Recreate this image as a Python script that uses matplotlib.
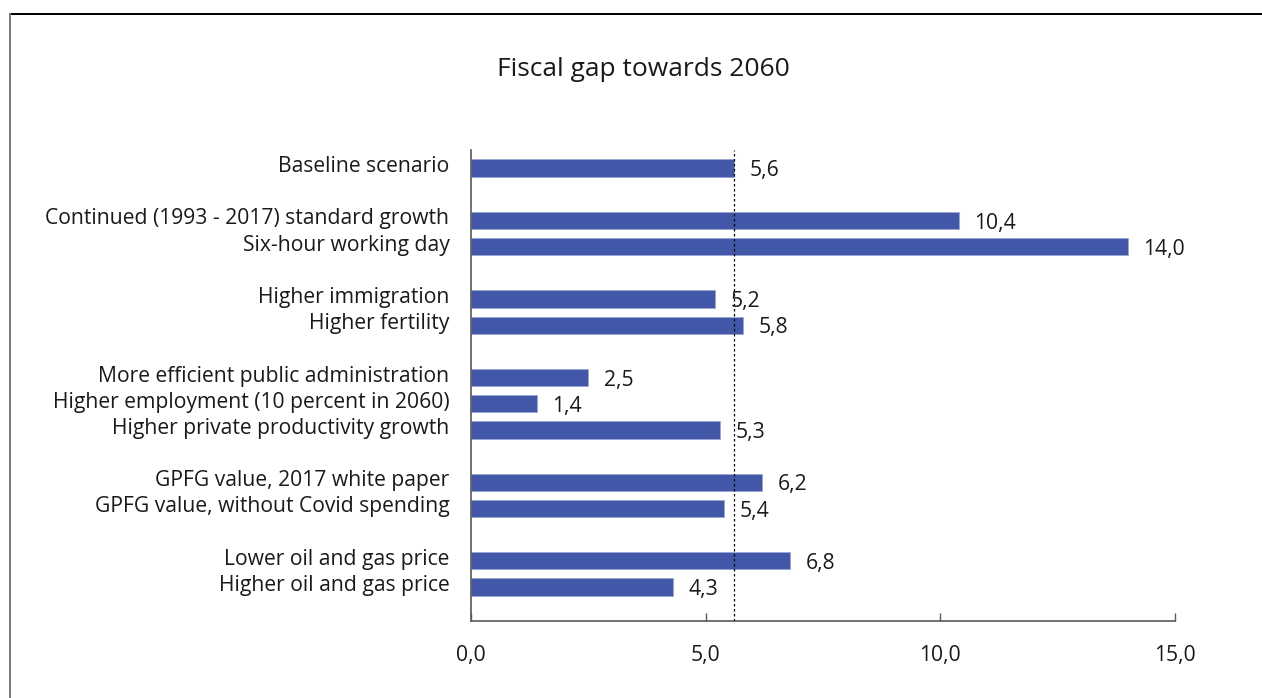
import matplotlib.pyplot as plt
from matplotlib.lines import Line2D
from matplotlib.transforms import ScaledTranslation

plt.rcParams['font.family'] = ['Open Sans', 'DejaVu Sans']

# Scenarios, grouped; a blank row separates each group
groups = [
    ["Baseline scenario"],
    ["Continued (1993 - 2017) standard growth", "Six-hour working day"],
    ["Higher immigration", "Higher fertility"],
    ["More efficient public administration",
     "Higher employment (10 percent in 2060)",
     "Higher private productivity growth"],
    ["GPFG value, 2017 white paper", "GPFG value, without Covid spending"],
    ["Lower oil and gas price", "Higher oil and gas price"],
]
group_values = [
    [5.6],
    [10.4, 14.0],
    [5.2, 5.8],
    [2.5, 1.4, 5.3],
    [6.2, 5.4],
    [6.8, 4.3],
]
baseline = 5.6
xticks = [0, 5, 10, 15]

labels, values, ypos = [], [], []
row = 0
for names, vals in zip(groups, group_values):
    for n, v in zip(names, vals):
        labels.append(n)
        values.append(v)
        ypos.append(row)
        row += 1
    row += 1  # spacer row
last_row = ypos[-1]

fs = 15.2
fig = plt.figure(figsize=(12.62, 6.98), dpi=100)
ax = fig.add_axes([471 / 1262, 1 - 621 / 698, 704 / 1262, 471 / 698])

bar_color = '#4257a7'
ax.barh(ypos, values, height=0.66, color=bar_color, edgecolor='#9aa6d4',
        linewidth=0.6, zorder=2)

for y, v in zip(ypos, values):
    ax.text(v + 0.33, y + 0.1, f"{v:.1f}".replace('.', ','), va='center',
            ha='left', fontsize=fs, color='#1a1a1a', zorder=4)

ax.axvline(baseline, color='black', linestyle=(0, (2, 2)), linewidth=0.9,
           zorder=3)

ax.set_xlim(0, 15)
ax.set_ylim(last_row + 1.3, -0.69)
ax.set_yticks(ypos)
ax.set_yticklabels(labels, fontsize=fs, color='#1a1a1a')
ax.set_xticks(xticks)
ax.set_xticklabels([f"{t:.1f}".replace('.', ',') for t in xticks],
                   fontsize=fs, color='#1a1a1a')
ax.tick_params(axis='y', length=0, pad=15.5)
ax.tick_params(axis='x', direction='in', length=6, width=1, color='#595959',
               pad=17)

# category labels sit a little above the bar centres
lift = ScaledTranslation(0, 4 / 100, fig.dpi_scale_trans)
for lab in ax.get_yticklabels():
    lab.set_transform(lab.get_transform() + lift)

for side in ['top', 'right']:
    ax.spines[side].set_visible(False)
for side in ['left', 'bottom']:
    ax.spines[side].set_color('#595959')
    ax.spines[side].set_linewidth(1.2)

fig.text(643 / 1262, 1 - 70 / 698, "Fiscal gap towards 2060", ha='center',
         va='center', fontsize=19, color='#1a1a1a')

# frame around the chart area
top_y = 1 - 14 / 698
left_x = 10 / 1262
fig.add_artist(Line2D([left_x, 1], [top_y, top_y], color='black',
                      linewidth=1.4, transform=fig.transFigure))
fig.add_artist(Line2D([left_x, left_x], [0, top_y], color='#7a7a7a',
                      linewidth=1.4, transform=fig.transFigure))

fig.savefig('out.png', dpi=100)
